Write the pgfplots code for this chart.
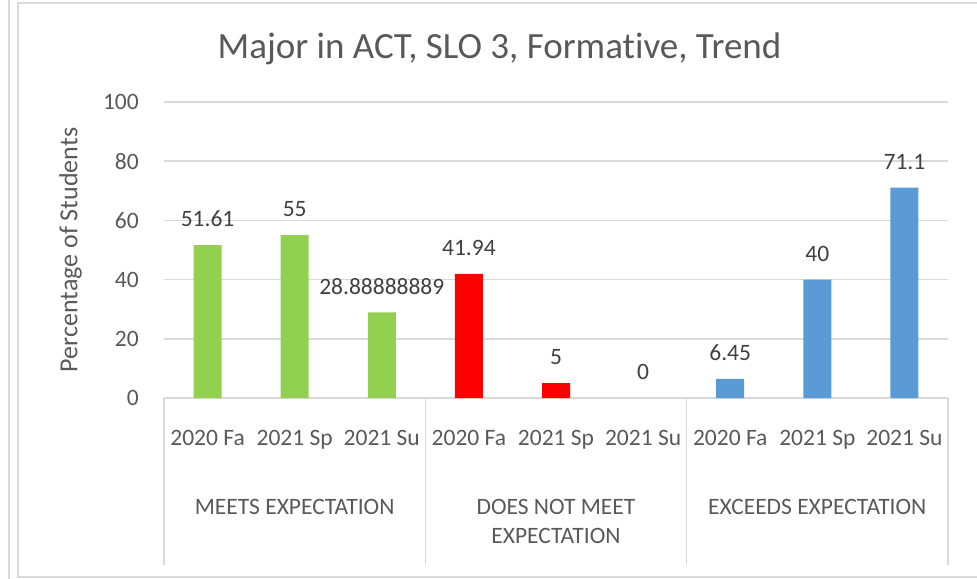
\documentclass[border=0pt]{standalone}
\usepackage{fontspec}
\setmainfont{Carlito}[Ligatures=NoCommon]
\usepackage{pgfplots}
\pgfplotsset{compat=1.18}
\definecolor{txt}{HTML}{595959}
\definecolor{lbl}{HTML}{404040}
\definecolor{gridc}{HTML}{D9D9D9}
\definecolor{meet}{HTML}{92D050}
\definecolor{notmeet}{HTML}{FF0000}
\definecolor{exceed}{HTML}{5B9BD5}

\begin{document}
\begin{tikzpicture}
% page = 977 x 579 px, 1px = 1bp, axis box lower left at (0,0)
\useasboundingbox (-164bp,-181bp) rectangle (813bp,398bp);
\draw[gridc, line width=1.5bp] (-155bp,420bp) -- (-155bp,-200bp);
\draw[gridc, line width=1.5bp] (900bp,395bp) -- (-146bp,395bp) -- (-146bp,-179bp) -- (900bp,-179bp);
\begin{axis}[
    at={(0,0)}, anchor=south west,
    scale only axis,
    width=784bp, height=296bp,
    xmin=-0.5, xmax=8.5,
    ymin=0, ymax=100,
    ytick={0,20,40,60,80,100},
    xtick={0,...,8},
    xticklabels={2020 Fa,2021 Sp,2021 Su,2020 Fa,2021 Sp,2021 Su,2020 Fa,2021 Sp,2021 Su},
    major tick length=0pt,
    /pgf/number format/assume math mode=true,
    tick label style={font=\fontsize{23.5bp}{28bp}\selectfont, text=txt, inner sep=0pt},
    xticklabel style={anchor=north, yshift=-32bp},
    yticklabel style={anchor=east, xshift=-25bp},
    axis x line*=bottom,
    axis y line*=left,
    x axis line style={draw=gridc, line width=1.5bp, -},
    y axis line style={draw=none},
    ymajorgrids=true,
    grid style={gridc, line width=1.5bp},
    ylabel={Percentage of Students},
    ylabel style={at={(axis description cs:-0.119,0.5)}, anchor=center,
        font=\fontsize{26bp}{30bp}\selectfont, text=txt},
    title={Major in ACT, SLO 3, Formative, Trend},
    title style={at={(axis description cs:0.428,1.16)}, anchor=center,
        font=\fontsize{37bp}{42bp}\selectfont, text=txt},
    ybar, bar width=28bp, bar shift=0pt,
    point meta=explicit symbolic,
    nodes near coords,
    every node near coord/.append style={font=\fontsize{23.5bp}{28bp}\selectfont,
        text=lbl, inner sep=0pt, anchor=south, yshift=18bp},
    clip=false,
]
\addplot[fill=meet, draw=none] coordinates {
    (0,51.61) [51.61] (1,55) [55] (2,28.88888889) [28.88888889]
};
\addplot[fill=notmeet, draw=none] coordinates {
    (3,41.94) [41.94] (4,5) [5]
};
% zero-height bar: only its label shows
\addplot[draw=none, fill=none] coordinates {(5,0) [0]};
\addplot[fill=exceed, draw=none] coordinates {
    (6,6.45) [6.45] (7,40) [40] (8,71.1) [71.1]
};
% group separators below the axis
\draw[gridc, line width=1.5bp] (axis cs:-0.5,0) -- (axis cs:-0.5,-56.4);
\draw[gridc, line width=1.5bp] (axis cs:2.5,0) -- (axis cs:2.5,-56.4);
\draw[gridc, line width=1.5bp] (axis cs:5.5,0) -- (axis cs:5.5,-56.4);
\draw[gridc, line width=1.5bp] (axis cs:8.5,0) -- (axis cs:8.5,-56.4);
\node[anchor=north, inner sep=0pt, text=txt, align=center,
    font=\fontsize{23.5bp}{29bp}\selectfont] at (axis cs:1,-34.1) {MEETS EXPECTATION};
\node[anchor=north, inner sep=0pt, text=txt, align=center,
    font=\fontsize{23.5bp}{29bp}\selectfont] at (axis cs:4,-34.1) {DOES NOT MEET\\EXPECTATION};
\node[anchor=north, inner sep=0pt, text=txt, align=center,
    font=\fontsize{23.5bp}{29bp}\selectfont] at (axis cs:7,-34.1) {EXCEEDS EXPECTATION};
\end{axis}
\end{tikzpicture}
\end{document}
